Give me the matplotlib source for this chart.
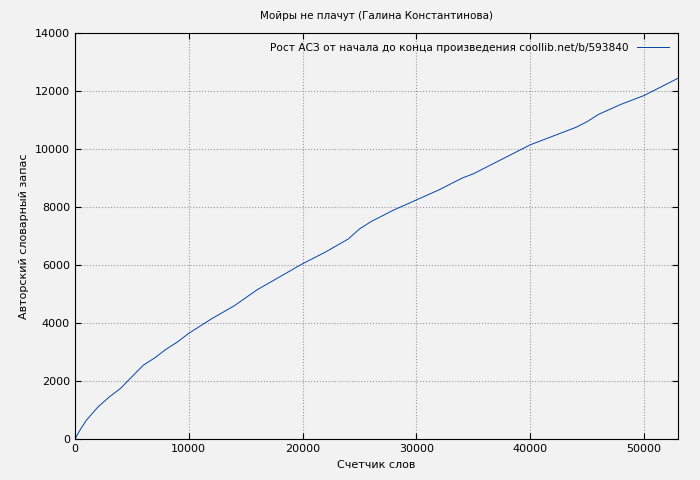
import matplotlib
matplotlib.use('Agg')
import matplotlib.pyplot as plt

words = [0, 500, 1000, 2000, 3000, 4000, 5000, 6000, 7000, 8000, 9000, 10000, 12000, 14000,
         16000, 18000, 20000, 22000, 24000, 25000, 26000, 28000, 30000, 32000, 34000,
         35000, 36000, 38000, 40000, 42000, 44000, 45000, 46000, 48000, 50000, 51000, 52000, 53000]
vocab = [0, 350, 650, 1100, 1450, 1750, 2150, 2550, 2800, 3100, 3350, 3650, 4150, 4600,
         5150, 5600, 6050, 6450, 6900, 7250, 7500, 7900, 8250, 8600, 9000,
         9150, 9350, 9750, 10150, 10450, 10750, 10950, 11200, 11550, 11850, 12050, 12250, 12450]

plt.rcParams['font.size'] = 8
fig = plt.figure(figsize=(7, 4.8), dpi=100, facecolor='#f2f2f2')
ax = fig.add_axes([0.107, 0.085, 0.862, 0.846], facecolor='#f2f2f2')
ax.plot(words, vocab, color='#0044aa', lw=0.7,
        label='Рост АСЗ от начала до конца произведения coollib.net/b/593840')
ax.set_xlim(0, 53000)
ax.set_ylim(0, 14000)
ax.set_xticks([0, 10000, 20000, 30000, 40000, 50000])
ax.set_yticks(range(0, 14001, 2000))
ax.grid(True, color='#999999', linestyle=':', lw=0.8)
ax.tick_params(direction='in', length=4, top=True, right=True)
ax.set_xlabel('Счетчик слов')
ax.set_ylabel('Авторский словарный запас')
ax.set_title('Мойры не плачут (Галина Константинова)', pad=10, fontsize=7.5)
ax.legend(loc='upper right', frameon=False, markerfirst=False, handlelength=3,
          fontsize=7.6)
fig.savefig('out.png', dpi=100, facecolor='#f2f2f2')
